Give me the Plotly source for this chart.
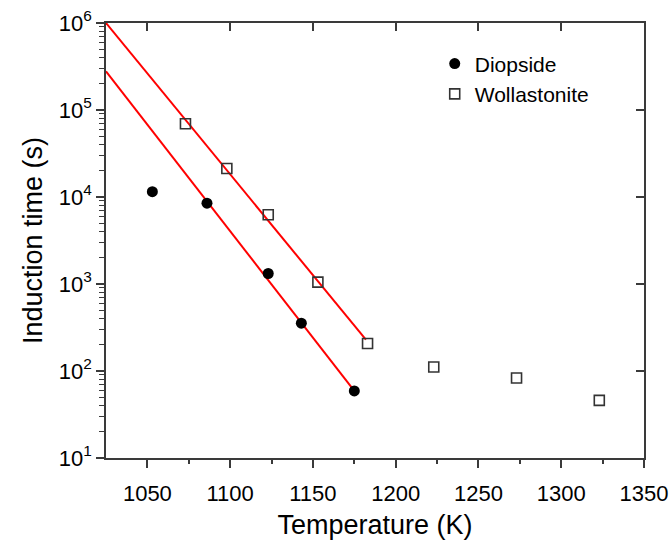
import plotly.graph_objects as go

# Data
temp_diopside = [1053, 1086, 1123, 1143, 1175]
time_diopside = [11500, 8500, 1320, 355, 59]

temp_wollastonite = [1073, 1098, 1123, 1153, 1183, 1223, 1273, 1323]
time_wollastonite = [69600, 21300, 6260, 1050, 207, 111, 83, 46]

# Linear fits (end points of the red lines)
fit_temp_wollastonite = [1025, 1182]
fit_time_wollastonite = [1.0e6, 229]
fit_temp_diopside = [1025, 1175]
fit_time_diopside = [2.78e5, 59]

x_range = [1025, 1350]
y_range_log = [1, 6]
x_major_ticks = [1050, 1100, 1150, 1200, 1250, 1300, 1350]
y_major_ticks = [10 ** n for n in range(1, 7)]
y_major_text = ["10<sup>%d</sup>" % n for n in range(1, 7)]
y_minor_ticks = [k * 10 ** n for n in range(1, 6) for k in range(2, 10)]
x_minor_ticks = [1075, 1125, 1175, 1225, 1275, 1325]

FONT = "Arial, Liberation Sans, sans-serif"
AX = "#3a3a3a"

fig = go.Figure()

fig.add_trace(go.Scatter(x=fit_temp_wollastonite, y=fit_time_wollastonite, mode="lines",
                         line=dict(color="#ff0000", width=2), showlegend=False, hoverinfo="skip"))
fig.add_trace(go.Scatter(x=fit_temp_diopside, y=fit_time_diopside, mode="lines",
                         line=dict(color="#ff0000", width=2), showlegend=False, hoverinfo="skip"))

fig.add_trace(go.Scatter(x=temp_diopside, y=time_diopside, mode="markers", name="Diopside",
                         marker=dict(symbol="circle", size=11, color="black",
                                     line=dict(color="black", width=0))))
fig.add_trace(go.Scatter(x=temp_wollastonite, y=time_wollastonite, mode="markers", name="Wollastonite",
                         marker=dict(symbol="square-open", size=10, color="#333333",
                                     line=dict(color="#333333", width=1.6))))

# invisible trace to create the mirrored (top/right) axes
fig.add_trace(go.Scatter(x=temp_wollastonite[:1], y=time_wollastonite[:1], xaxis="x2", yaxis="y2",
                         mode="markers", marker=dict(opacity=0), showlegend=False, hoverinfo="skip"))

common = dict(showgrid=False, zeroline=False, automargin=False)

fig.update_layout(
    width=672, height=543,
    margin=dict(l=106, r=28, t=23, b=85, autoexpand=False),
    plot_bgcolor="white", paper_bgcolor="white",
    font=dict(family=FONT, color="black"),
    showlegend=True,
    legend=dict(x=0.611, y=0.953, xanchor="left", yanchor="top",
                font=dict(size=21, family=FONT, color="black"),
                bgcolor="rgba(0,0,0,0)", tracegroupgap=0),
    xaxis=dict(range=x_range, tickmode="array", tickvals=x_major_ticks,
               ticks="outside", ticklen=8, tickwidth=1.5,
               tickcolor=AX, showline=True, linecolor=AX, linewidth=1.5,
               tickfont=dict(size=22, family=FONT), ticklabelstandoff=7,
               minor=dict(tickmode="array", tickvals=x_minor_ticks, ticks="outside", ticklen=4,
                          tickwidth=1.5, tickcolor=AX, showgrid=False),
               title=dict(text="Temperature (K)", font=dict(size=27, family=FONT), standoff=10),
               **common),
    yaxis=dict(type="log", range=y_range_log, tickmode="array", tickvals=y_major_ticks,
               ticktext=y_major_text, ticks="outside", ticklen=8, tickwidth=1.5, tickcolor=AX,
               showline=True, linecolor=AX, linewidth=1.5,
               tickfont=dict(size=22, family=FONT),
               minor=dict(tickmode="array", tickvals=y_minor_ticks, ticks="outside", ticklen=5,
                          tickwidth=1.2, tickcolor=AX, showgrid=False),
               title=dict(text="Induction time (s)", font=dict(size=27, family=FONT), standoff=8),
               **common),
    xaxis2=dict(overlaying="x", side="top", anchor="y", range=x_range, tickmode="array",
                tickvals=x_major_ticks[:-1],
                ticks="inside", ticklen=8, tickwidth=1.5, tickcolor=AX, showline=True,
                linecolor=AX, linewidth=1.5, showticklabels=False, **common),
    yaxis2=dict(overlaying="y", side="right", anchor="x", type="log", range=y_range_log,
                tickmode="array", tickvals=y_major_ticks,
                ticks="inside", ticklen=8, tickwidth=1.5, tickcolor=AX, showline=True,
                linecolor=AX, linewidth=1.5, showticklabels=False, **common),
)

fig.write_html("out.html")
